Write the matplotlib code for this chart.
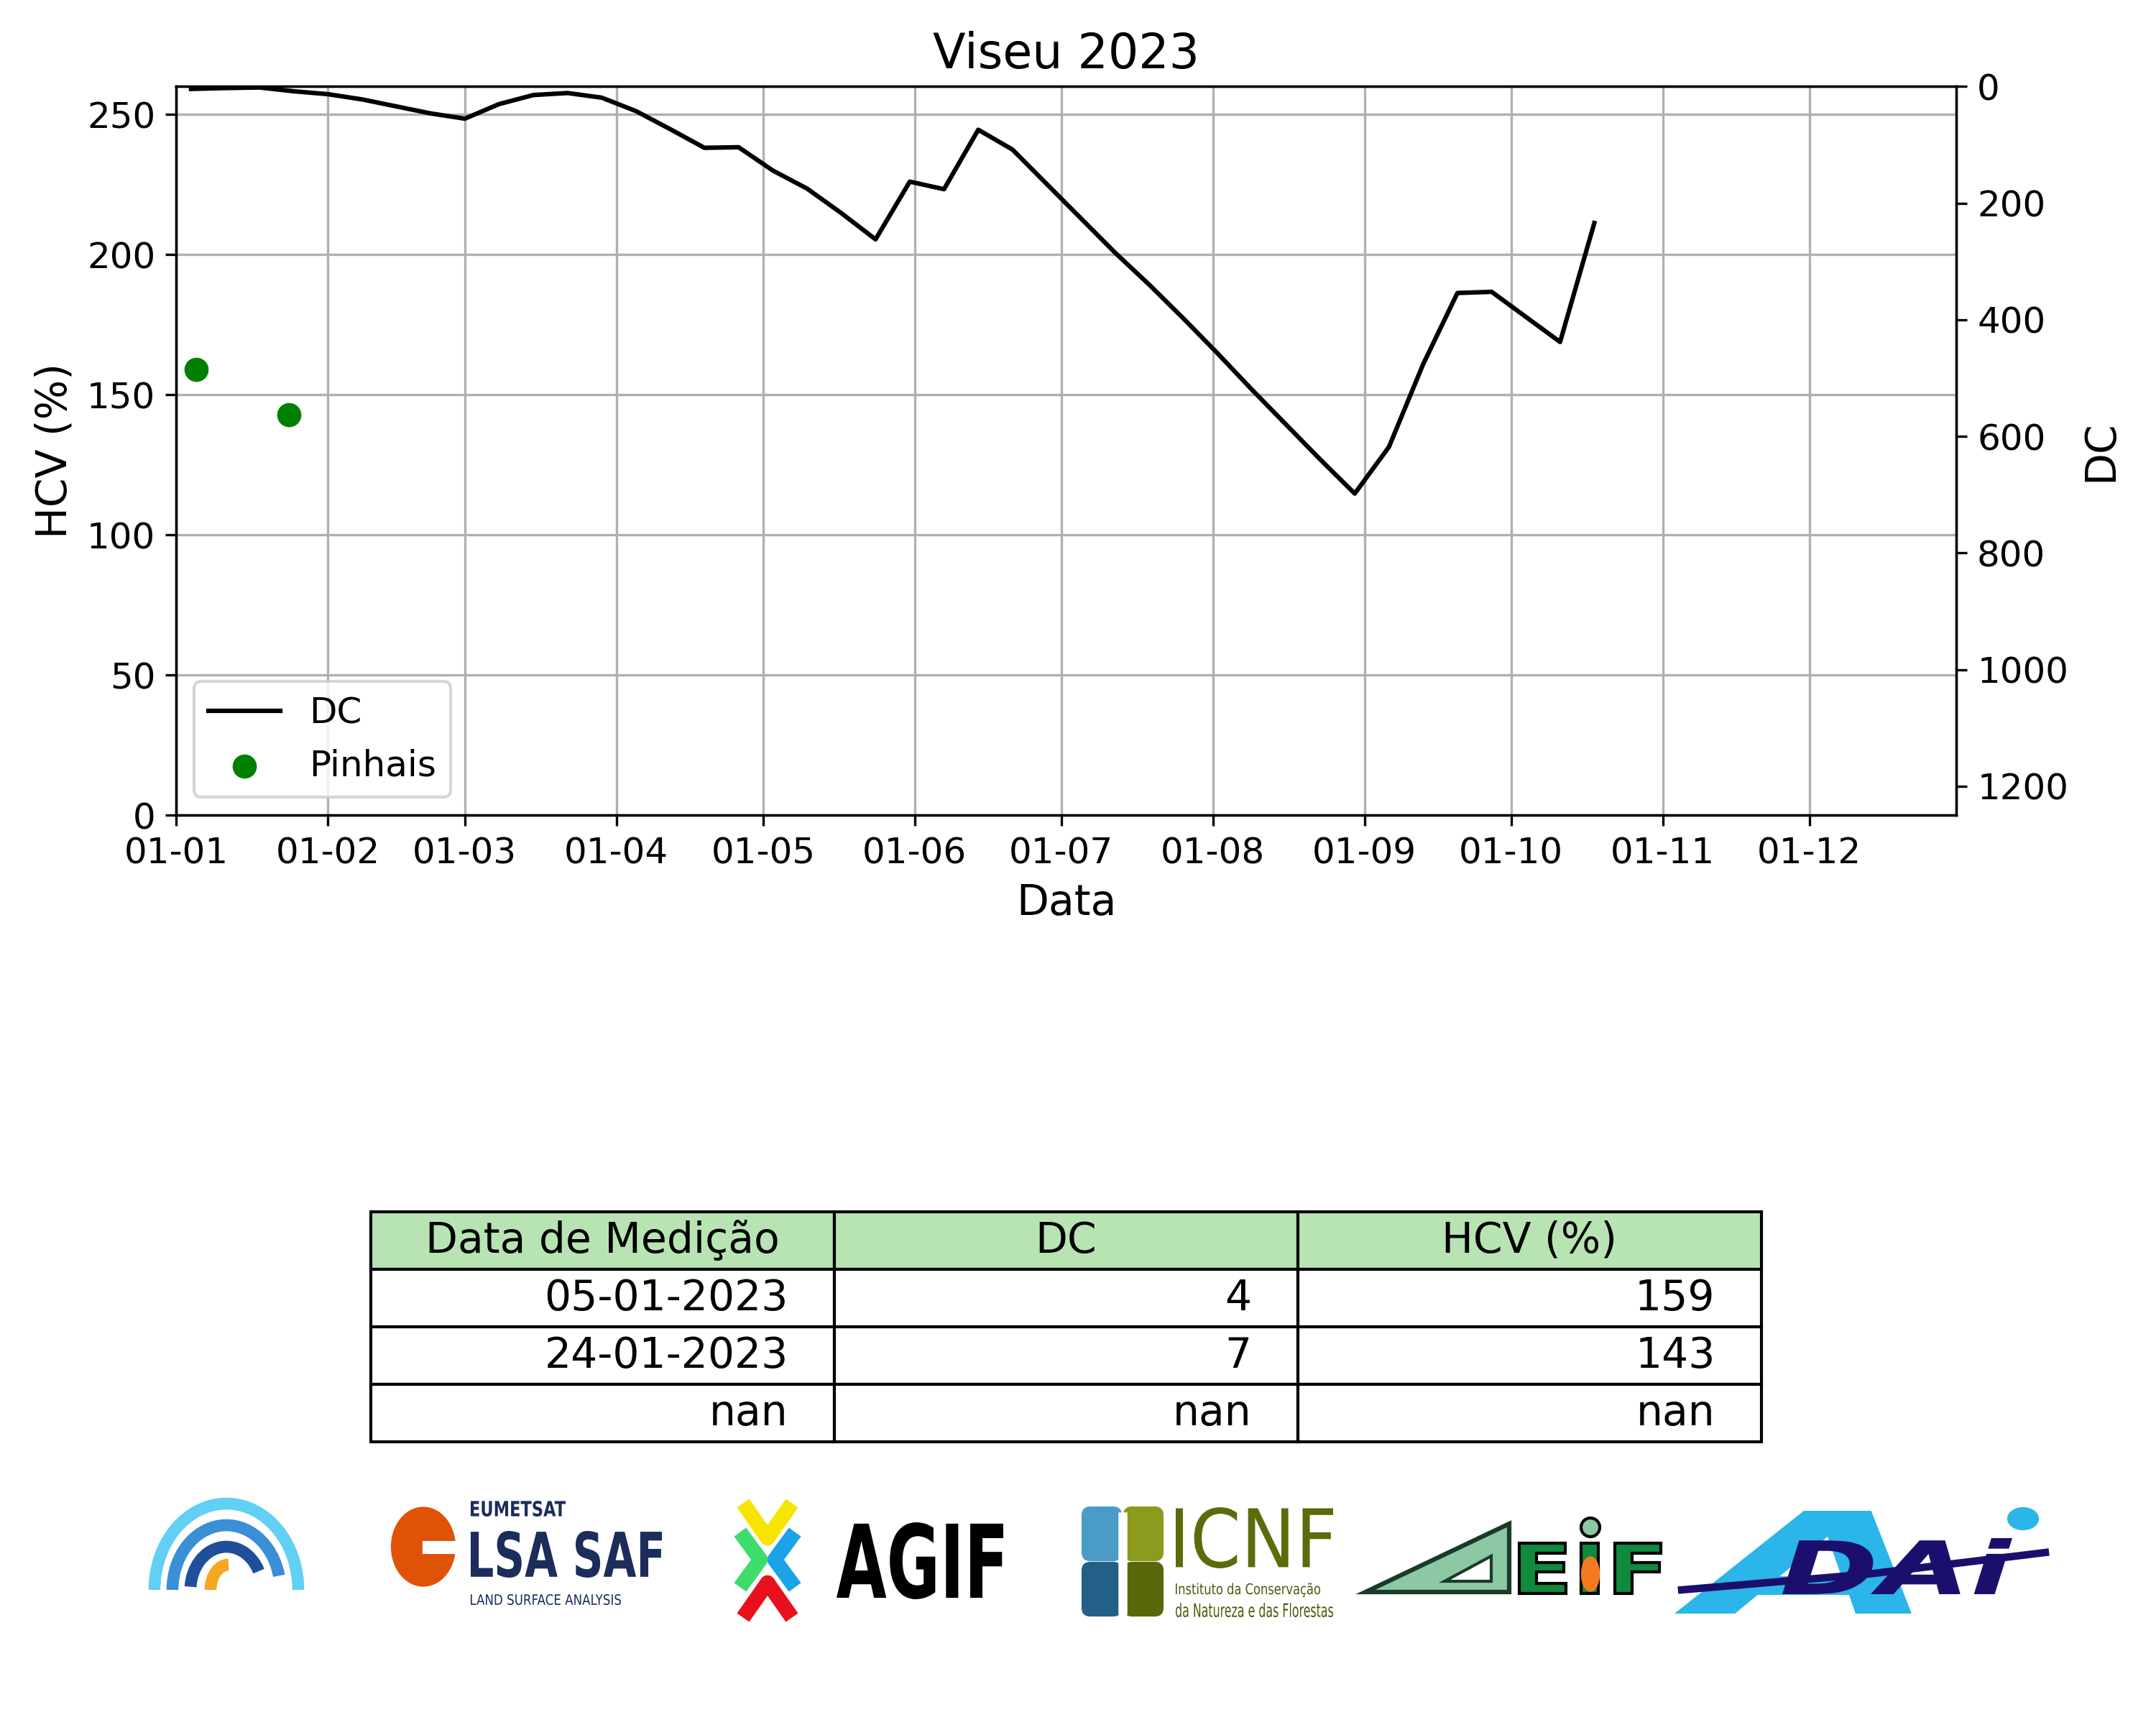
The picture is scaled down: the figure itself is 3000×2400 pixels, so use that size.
import numpy as np
import pandas as pd
import matplotlib
matplotlib.use('Agg')
import matplotlib.pyplot as plt
import matplotlib.dates as mdates
from matplotlib.patches import Arc, Ellipse, Rectangle, FancyBboxPatch, Polygon, Circle, PathPatch
from matplotlib.textpath import TextPath
from matplotlib.font_manager import FontProperties
from matplotlib.transforms import Affine2D

plt.rcParams['font.size'] = 12

# DC series (weekly)
dc_dates = ['2023-01-04', '2023-01-11', '2023-01-18', '2023-01-25',
            '2023-02-01', '2023-02-08', '2023-02-15', '2023-02-22',
            '2023-03-01', '2023-03-08', '2023-03-15', '2023-03-22', '2023-03-29',
            '2023-04-05', '2023-04-12', '2023-04-19', '2023-04-26',
            '2023-05-03', '2023-05-10', '2023-05-17', '2023-05-24', '2023-05-31',
            '2023-06-07', '2023-06-14', '2023-06-21', '2023-06-28',
            '2023-07-05', '2023-07-12', '2023-07-19', '2023-07-26',
            '2023-08-02', '2023-08-09', '2023-08-16', '2023-08-23', '2023-08-30',
            '2023-09-06', '2023-09-13', '2023-09-20', '2023-09-27',
            '2023-10-04', '2023-10-11', '2023-10-18']
dc_values = [4, 2.5, 1.5, 8,
             13, 22, 34, 46,
             55, 30, 14.5, 11, 19,
             42, 73, 105, 104,
             144, 175, 217, 262, 163,
             176, 74, 108, 167,
             226, 285, 340, 398,
             458, 520, 580, 640, 698,
             618, 476, 354, 352,
             395, 438, 234]

# Pinhais measurements
pinhais_dates = ['2023-01-05', '2023-01-24']
pinhais_hcv = [159, 143]

# table
table_cols = ['Data de Medição', 'DC', 'HCV (%)']
table_dates = ['05-01-2023', '24-01-2023', 'nan']
table_dc = [4, 7, np.nan]
table_hcv = [159, 143, np.nan]

fig = plt.figure(figsize=(10, 8), dpi=300)
ax1 = fig.add_axes([0.0818, 0.5273, 0.8255, 0.4225])
ax2 = ax1.twinx()

ax2.plot(pd.to_datetime(dc_dates), dc_values, color='black', label='DC')
ax1.scatter(pd.to_datetime(pinhais_dates), pinhais_hcv, color='green', s=50, label='Pinhais', zorder=3)

ax1.set_ylim(0, 260)
ax1.set_yticks(range(0, 251, 50))
ax2.set_ylim(1250, 0)
ax2.set_yticks(range(0, 1201, 200))
ax1.set_xlim(pd.Timestamp('2023-01-01'), pd.Timestamp('2023-12-31'))
ax1.xaxis.set_major_locator(mdates.MonthLocator())
ax1.xaxis.set_major_formatter(mdates.DateFormatter('%d-%m'))
ax1.grid(True)
ax1.set_title('Viseu 2023', fontsize=16)
ax1.set_xlabel('Data', fontsize=14)
ax1.set_ylabel('HCV (%)', fontsize=14)
ax2.set_ylabel('DC', fontsize=14)

h1, l1 = ax2.get_legend_handles_labels()
h2, l2 = ax1.get_legend_handles_labels()
ax1.legend(h1 + h2, l1 + l2, loc='lower left', fontsize=12)

# table under the chart
tab_ax = fig.add_axes([0.172, 0.164, 0.645, 0.1335])
tab_ax.axis('off')
rows = []
for d, c, h in zip(table_dates, table_dc, table_hcv):
    rows.append([d, f'{c:.0f}', f'{h:.0f}'])
tbl = tab_ax.table(cellText=rows, colLabels=table_cols, bbox=[0, 0, 1, 1],
                   cellLoc='right', colLoc='center')
tbl.auto_set_font_size(False)
tbl.set_fontsize(14)
for j in range(len(table_cols)):
    tbl[0, j].set_facecolor('#b8e4b4')

# logos (simplified drawings), overlay in pixel coordinates
lg = fig.add_axes([0, 0, 1, 1])
lg.set_xlim(0, 3000)
lg.set_ylim(0, 2400)
lg.axis('off')


def fit_text(s, x0, y0, x1, y1, color, weight='bold', style='normal', ec='none', lw=0):
    tp = TextPath((0, 0), s, size=100,
                  prop=FontProperties(family='DejaVu Sans', weight=weight, style=style))
    bb = tp.get_extents()
    tr = Affine2D().translate(-bb.x0, -bb.y0).scale((x1 - x0) / bb.width, (y1 - y0) / bb.height)
    tr = tr.translate(x0, 2400 - y1)
    lg.add_patch(PathPatch(tr.transform_path(tp), fc=color, ec=ec, lw=lw))


def Y(y):
    return 2400 - y

# arcs logo
lg.add_patch(Arc((315, Y(2212)), 200, 240, theta1=0, theta2=180, color='#62cff4', lw=4))
lg.add_patch(Arc((315, Y(2212)), 150, 180, theta1=15, theta2=180, color='#3a8fd6', lw=4))
lg.add_patch(Arc((315, Y(2212)), 100, 120, theta1=30, theta2=175, color='#1f4e9a', lw=4))
lg.add_patch(Arc((318, Y(2212)), 50, 70, theta1=90, theta2=180, color='#f5a623', lw=4))

# LSA SAF
lg.add_patch(Ellipse((589, Y(2152)), 86, 107, color='#e05206'))
lg.add_patch(Rectangle((590, Y(2160)), 45, 14, color='white'))
fit_text('EUMETSAT', 655, 2088, 787, 2110, '#1c2c5b')
fit_text('LSA SAF', 655, 2130, 921, 2195, '#1c2c5b')
fit_text('LAND SURFACE ANALYSIS', 655, 2218, 864, 2233, '#1c2c5b', weight='normal')

# AGIF
lg.plot([1040, 1068, 1096], [Y(2100), Y(2140), Y(2100)], color='#f7e400', lw=5)
lg.plot([1100, 1078, 1100], [Y(2140), Y(2170), Y(2200)], color='#1aa3e8', lw=5)
lg.plot([1040, 1068, 1096], [Y(2242), Y(2202), Y(2242)], color='#e8101c', lw=5)
lg.plot([1036, 1058, 1036], [Y(2140), Y(2170), Y(2200)], color='#3ddc6c', lw=5)
fit_text('AGIF', 1164, 2118, 1396, 2225, 'black')

# ICNF
lg.add_patch(FancyBboxPatch((1507, Y(2170)), 52, 72, boxstyle='round,pad=0,rounding_size=10', color='#4a9cc7'))
lg.add_patch(FancyBboxPatch((1565, Y(2170)), 52, 72, boxstyle='round,pad=0,rounding_size=10', color='#8c9a1e'))
lg.add_patch(FancyBboxPatch((1507, Y(2247)), 52, 72, boxstyle='round,pad=0,rounding_size=10', color='#235f86'))
lg.add_patch(FancyBboxPatch((1565, Y(2247)), 52, 72, boxstyle='round,pad=0,rounding_size=10', color='#5a660a'))
lg.plot([1562, 1562], [Y(2110), Y(2240)], color='white', lw=3)
fit_text('ICNF', 1636, 2097, 1855, 2182, '#5d6b0a', weight='normal')
fit_text('Instituto da Conservação', 1636, 2202, 1837, 2222, '#4a5a0a', weight='normal')
fit_text('da Natureza e das Florestas', 1636, 2230, 1855, 2250, '#4a5a0a', weight='normal')

# AEIF
lg.add_patch(Polygon([(1900, Y(2215)), (2100, Y(2120)), (2100, Y(2215))],
                     closed=True, fc='#8dc8a5', ec='#1a3a2a', lw=1.5))
lg.add_patch(Polygon([(2010, Y(2200)), (2075, Y(2165)), (2075, Y(2200))],
                     closed=True, fc='white', ec='#1a3a2a', lw=1))
fit_text('EIF', 2114, 2147, 2311, 2217, '#0f8a3e', ec='black', lw=1)
lg.add_patch(Circle((2213, Y(2125)), 13, fc='#8dc8a5', ec='black', lw=1))
lg.add_patch(Ellipse((2213, Y(2190)), 22, 45, color='#f47a20'))

# ADAI
fit_text('A', 2330, 2102, 2660, 2245, '#2bb5e8', style='italic')
fit_text('DAi', 2480, 2140, 2800, 2218, '#1b0f6e', style='italic')
lg.plot([2340, 2600, 2846], [Y(2212), Y(2190), Y(2160)], color='#1b0f6e', lw=2.5)
lg.add_patch(Ellipse((2815, Y(2113)), 40, 28, color='#2bb5e8'))

fig.savefig('out.png', dpi=300)
